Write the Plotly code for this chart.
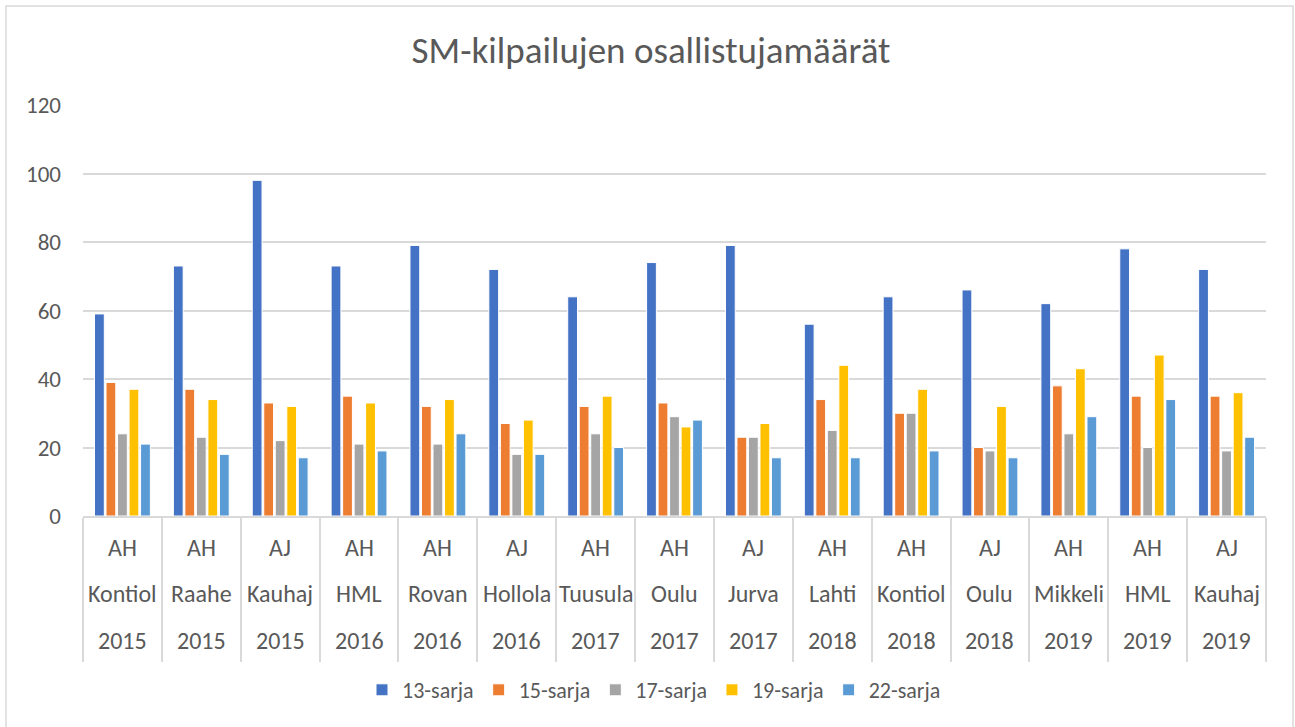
import plotly.graph_objects as go

types = ["AH", "AH", "AJ", "AH", "AH", "AJ", "AH", "AH", "AJ", "AH", "AH", "AJ", "AH", "AH", "AJ"]
places = ["Kontiol", "Raahe", "Kauhaj", "HML", "Rovan", "Hollola", "Tuusula", "Oulu", "Jurva",
          "Lahti", "Kontiol", "Oulu", "Mikkeli", "HML", "Kauhaj"]
years = ["2015", "2015", "2015", "2016", "2016", "2016", "2017", "2017", "2017",
         "2018", "2018", "2018", "2019", "2019", "2019"]

s13 = [59, 73, 98, 73, 79, 72, 64, 74, 79, 56, 64, 66, 62, 78, 72]
s15 = [39, 37, 33, 35, 32, 27, 32, 33, 23, 34, 30, 20, 38, 35, 35]
s17 = [24, 23, 22, 21, 21, 18, 24, 29, 23, 25, 30, 19, 24, 20, 19]
s19 = [37, 34, 32, 33, 34, 28, 35, 26, 27, 44, 37, 32, 43, 47, 36]
s22 = [21, 18, 17, 19, 24, 18, 20, 28, 17, 17, 19, 17, 29, 34, 23]

series_names = ["13-sarja", "15-sarja", "17-sarja", "19-sarja", "22-sarja"]
series_values = [s13, s15, s17, s19, s22]
colors = ["#4472C4", "#ED7D31", "#A5A5A5", "#FFC000", "#5B9BD5"]

y_ticks = [0, 20, 40, 60, 80, 100, 120]

FONT = "Carlito, Calibri, Lato, sans-serif"
TXT = "#595959"
GRID = "#d9d9d9"

cats = [f"{t} {p} {y}" for t, p, y in zip(types, places, years)]

fig = go.Figure()
for name, vals, col in zip(series_names, series_values, colors):
    fig.add_trace(go.Bar(x=cats, y=vals, name=name,
                         marker=dict(color=col, line=dict(color="white", width=1))))

W, H = 1295, 727
L, R, T, B = 83, 29, 105, 211
ph = H - T - B

def py(pix):
    return (H - B - pix) / ph

def px(pix):
    return (pix - L) / (W - L - R)

annotations = []
for row, y_pix in [(types, 547), (places, 593), (years, 640)]:
    for c, lab in zip(cats, row):
        annotations.append(dict(x=c, xref="x", y=py(y_pix), yref="paper", text=lab,
                                showarrow=False, xanchor="center", yanchor="middle",
                                font=dict(family=FONT, size=24, color=TXT)))

fig.update_layout(
    width=W, height=H,
    margin=dict(l=L, r=R, t=T, b=B),
    paper_bgcolor="white", plot_bgcolor="white",
    barmode="group", bargap=0.27, bargroupgap=0.15,
    title=dict(text="SM-kilpailujen osallistujamäärät", x=651 / W, xanchor="center",
               y=1 - 50 / H, yanchor="middle",
               font=dict(family=FONT, size=37, color=TXT)),
    font=dict(family=FONT, color=TXT),
    legend=dict(orientation="h", x=px(654), xanchor="center", y=py(690), yanchor="middle",
                font=dict(family=FONT, size=22, color=TXT), itemwidth=30,
                traceorder="normal"),
    xaxis=dict(type="category", showticklabels=False, tickson="boundaries",
               ticks="outside", ticklen=144, tickcolor=GRID, tickwidth=1.5,
               showline=True, linecolor=GRID, linewidth=1.5, showgrid=False),
    yaxis=dict(range=[0, 120], tickvals=y_ticks, showgrid=True, gridcolor=GRID,
               gridwidth=1.5, zeroline=False, showline=False,
               tickfont=dict(family=FONT, size=23, color=TXT), ticklabelstandoff=21),
    annotations=annotations,
    shapes=[dict(type="rect", xref="paper", yref="paper",
                 x0=px(6), x1=px(1293), y0=py(735), y1=py(6),
                 line=dict(color=GRID, width=1.5), fillcolor="rgba(0,0,0,0)", layer="below")],
)

fig.write_html("out.html", config={"displayModeBar": False},
               post_script="document.body.style.margin='0';document.body.style.overflow='hidden';")
